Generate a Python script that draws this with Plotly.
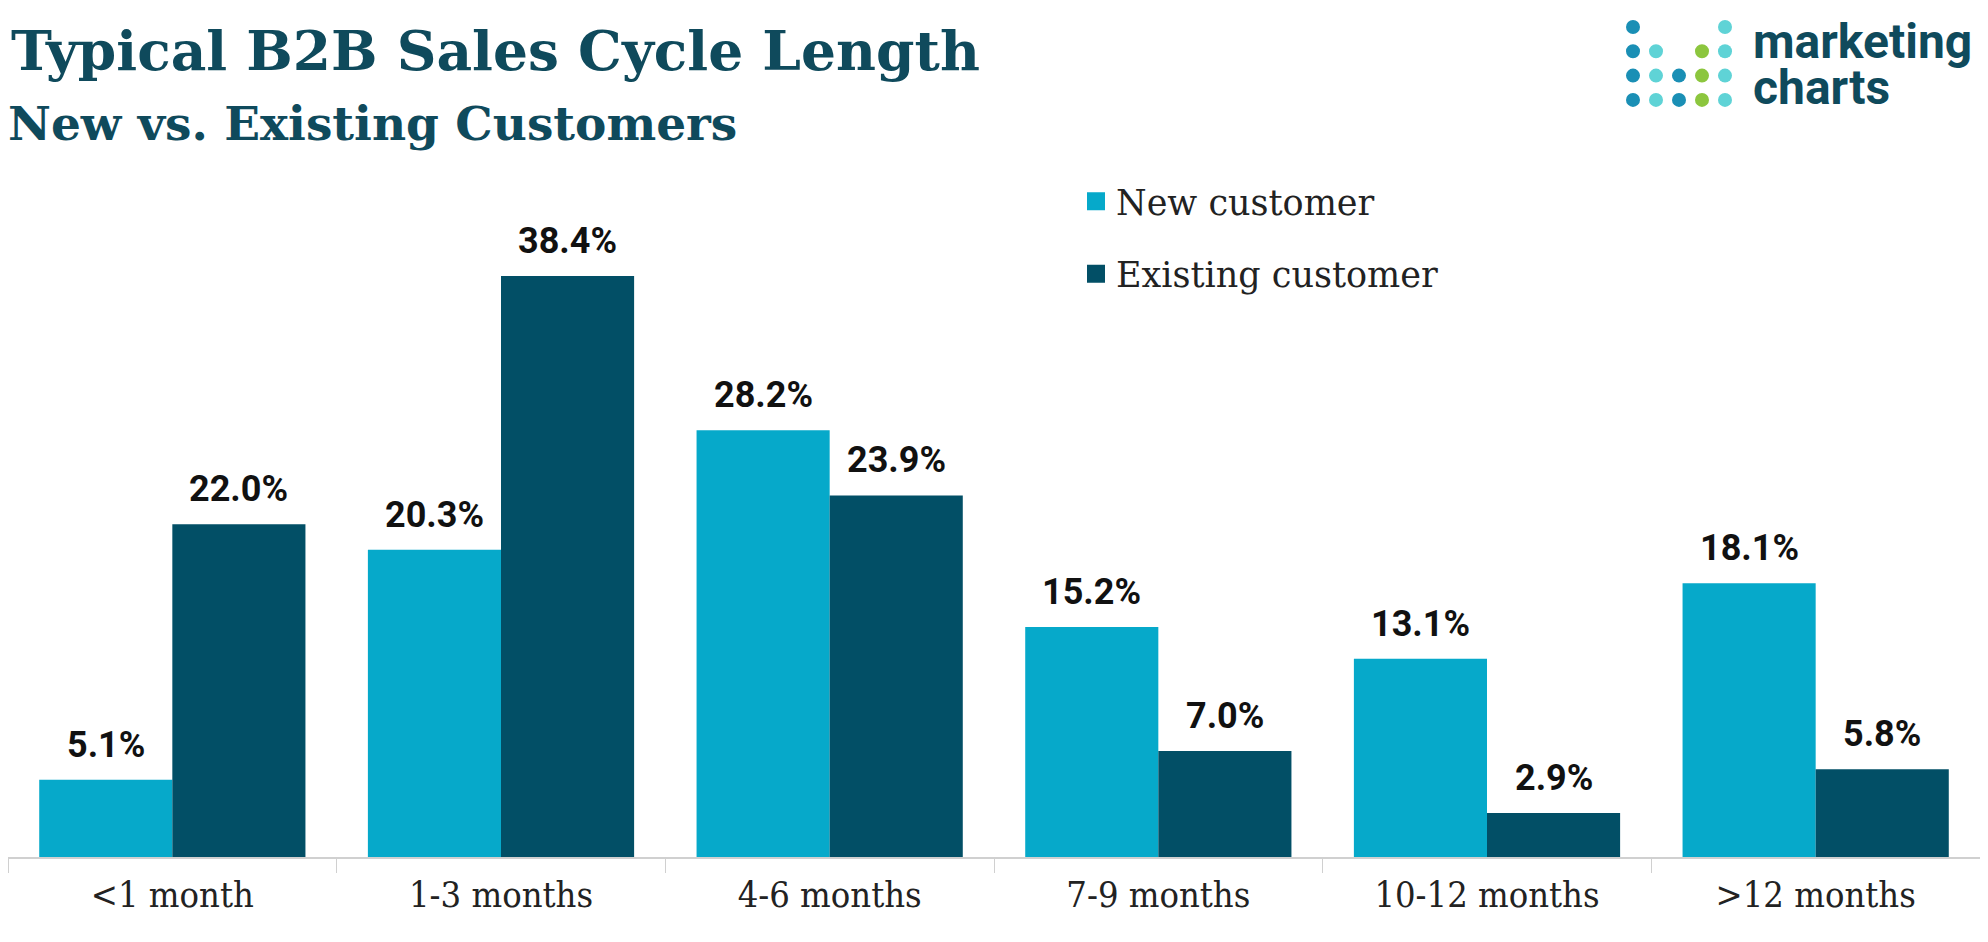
import plotly.graph_objects as go

categories = ["<1 month", "1-3 months", "4-6 months", "7-9 months", "10-12 months", ">12 months"]
new_customer = [5.1, 20.3, 28.2, 15.2, 13.1, 18.1]
existing_customer = [22.0, 38.4, 23.9, 7.0, 2.9, 5.8]
series_names = ["New customer", "Existing customer"]
colors = ["#06a9ca", "#024f66"]

# page body adds an 8px margin; figure coordinates are page coordinates minus OFF
OFF = 8
W, H = 1988 - 2 * OFF, 942 - 2 * OFF
ML, MR, MT, MB = 0, 0, 152, 77
PW, PH = W - ML - MR, H - MT - MB
PX_PER_PCT = 15.13
YMAX = PH / PX_PER_PCT
BARGAP = 0.19
BAR_W = PW / len(categories) * (1 - BARGAP) / 2

def py(page_y):
    return (H - MB - (page_y - OFF)) / PH

def px(page_x):
    return ((page_x - OFF) - ML) / PW

fig = go.Figure()
for name, vals, col in zip(series_names, [new_customer, existing_customer], colors):
    fig.add_trace(go.Bar(
        x=categories, y=vals, name=name, marker=dict(color=col, line=dict(width=0)),
        showlegend=False, hoverinfo="x+y",
    ))
for i, (name, col) in enumerate(zip(series_names, colors)):
    fig.add_trace(go.Scatter(
        x=[None], y=[None], mode="markers", name=name, legendgroup=f"g{i}",
        marker=dict(symbol="square", size=22, color=col, line=dict(width=2, color=col)),
    ))

annotations = []
for i, vals in enumerate([new_customer, existing_customer]):
    for cat, v in zip(categories, vals):
        annotations.append(dict(
            x=cat, y=v, xref="x", yref="y", text=f"{v:.1f}%", showarrow=False,
            xanchor="center", yanchor="bottom", xshift=(i - 0.5) * BAR_W, yshift=12,
            font=dict(family="Roboto", size=36, color="#111111", weight="bold"),
        ))

shapes = []
dot_cols = ["#1a8fb5", "#5fd3d6", "#1a8fb5", "#8cc63e", "#5fd3d6"]
pattern = [[1, 0, 0, 0, 1], [1, 1, 0, 1, 1], [1, 1, 1, 1, 1], [1, 1, 1, 1, 1]]
for r, row in enumerate(pattern):
    for c, on in enumerate(row):
        if on:
            cx, cy = 1633 + c * 23, 27 + r * 24.3
            shapes.append(dict(type="circle", xref="paper", yref="paper",
                               xsizemode="pixel", ysizemode="pixel",
                               xanchor=px(cx), yanchor=py(cy), x0=-7, x1=7, y0=-7, y1=7,
                               fillcolor=dot_cols[c], line=dict(width=0)))

annotations += [
    dict(text="<b>Typical B2B Sales Cycle Length</b>", xref="paper", yref="paper",
         x=px(9), y=py(51), xanchor="left", yanchor="middle", showarrow=False,
         font=dict(family="DejaVu Serif", size=55, color="#0f4a5c")),
    dict(text="<b>New vs. Existing Customers</b>", xref="paper", yref="paper",
         x=px(6), y=py(123), xanchor="left", yanchor="middle", showarrow=False,
         font=dict(family="DejaVu Serif", size=47, color="#0f4a5c")),
    dict(text="<b>marketing</b>", xref="paper", yref="paper",
         x=px(1751), y=py(41), xanchor="left", yanchor="middle", showarrow=False,
         font=dict(family="Roboto", size=48, color="#0f4a5c")),
    dict(text="<b>charts</b>", xref="paper", yref="paper",
         x=px(1751), y=py(87), xanchor="left", yanchor="middle", showarrow=False,
         font=dict(family="Roboto", size=48, color="#0f4a5c")),
]

fig.update_layout(
    width=W, height=H, margin=dict(l=ML, r=MR, t=MT, b=MB),
    paper_bgcolor="white", plot_bgcolor="white",
    barmode="group", bargap=BARGAP, bargroupgap=0,
    shapes=shapes, annotations=annotations,
    legend=dict(x=px(1076), y=py(172), xanchor="left", yanchor="top",
                font=dict(family="DejaVu Serif", size=35, color="#222222"),
                tracegroupgap=24, itemsizing="trace", bgcolor="rgba(0,0,0,0)"),
    xaxis=dict(showline=True, linecolor="#d0d0d0", linewidth=1.5, ticks="outside",
               tickson="boundaries", ticklen=14, tickcolor="#d0d0d0", tickwidth=1,
               ticklabelstandoff=5,
               tickfont=dict(family="DejaVu Serif Condensed, DejaVu Serif", size=36, color="#222222"),
               showgrid=False, fixedrange=True),
    yaxis=dict(range=[0, YMAX], visible=False, showgrid=False, fixedrange=True),
)

fig.write_html("out.html")
